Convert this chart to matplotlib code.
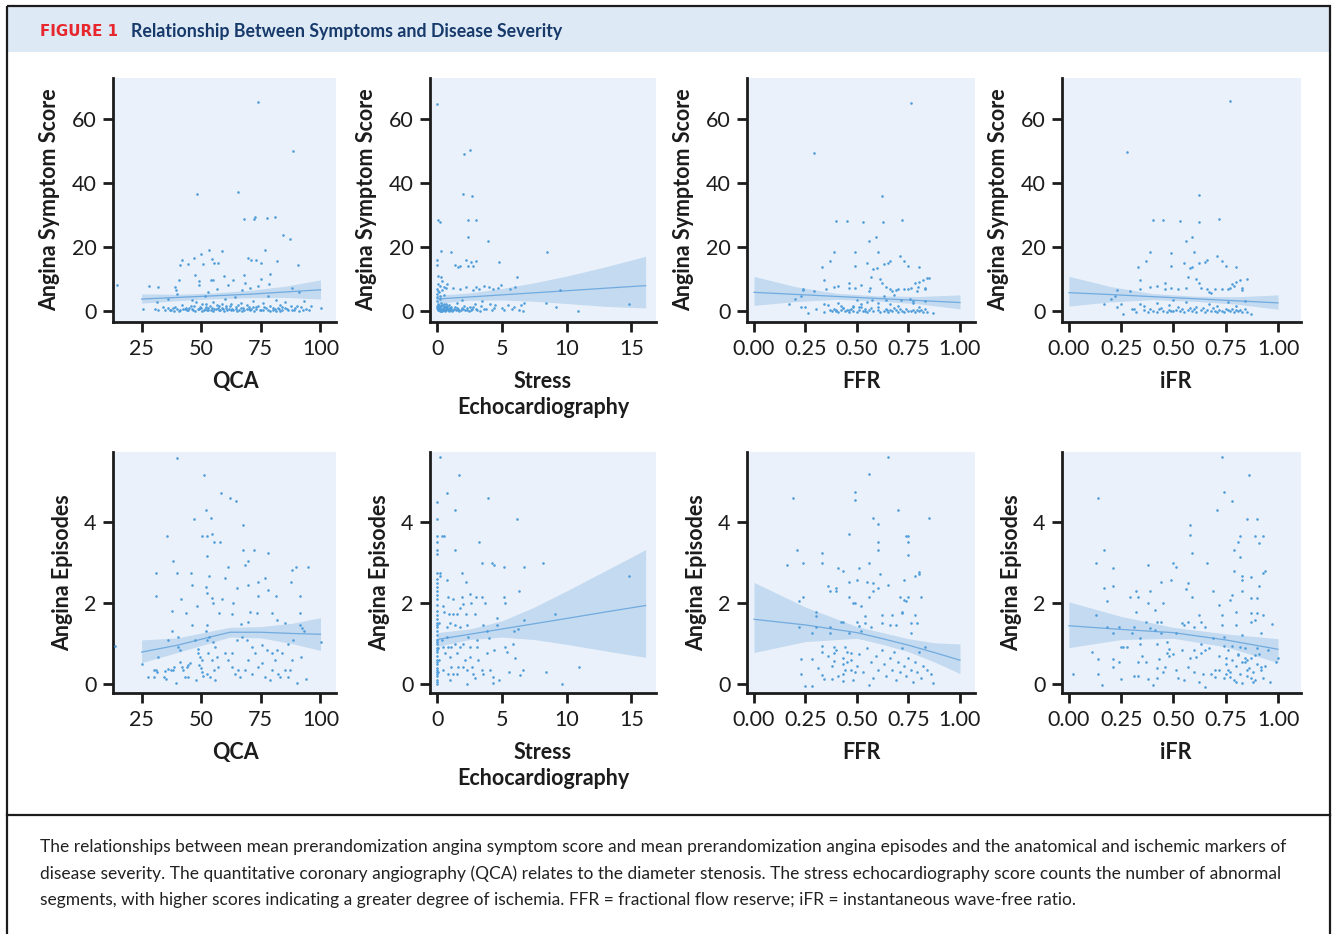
import numpy as np
import matplotlib
matplotlib.use('Agg')
import matplotlib.pyplot as plt
from matplotlib.patches import Rectangle

plt.rcParams['font.family'] = ['Lato', 'DejaVu Sans']

# ---------------- data ----------------
# top row: angina symptom score
qca_score = [
    (14.8, 8.0), (25.4, 0.6), (28, 7.7), (31.7, 7.4), (31.4, 2.7), (30.6, 0.7), (32, 0.3), (34, 1.2),
    (36.2, 3.7), (37, 0.4), (38, 0.8), (39, 7.5), (39.3, 6.5), (39.8, 5.4), (40.5, 9.8), (41, 14.5),
    (42, 16), (42, 1.8), (43, 0.5), (44.3, 14.7), (45, 0.9), (46, 3.5), (46.8, 16.6), (47.4, 11.1),
    (47, 1.4), (48.3, 36.6), (49, 9.3), (49.2, 8.2), (49.8, 17.9), (50, 0.8), (50.5, 2.2), (50.9, 14.7),
    (51.5, 4.5), (52, 1.2), (52.5, 0.3), (53, 5.8), (53.4, 19.2), (54, 9.8), (54.4, 16.4), (54.8, 9.8),
    (55, 2.8), (55.5, 15), (56, 0.6), (56.5, 6.8), (57, 15), (57.5, 1.5), (58, 0.2), (58.7, 18.9),
    (59.5, 10.8), (60, 3.8), (60.5, 0.9), (61.4, 8.2), (62, 1.6), (62.5, 0.4), (63.5, 9.8), (64, 4.2),
    (64.5, 1.1), (65.6, 37.2), (66, 0.3), (66.5, 2.5), (67, 6.5), (68, 28.8), (68, 11.1), (68.5, 8.7),
    (69, 1.9), (69.5, 16.6), (70, 0.5), (70.5, 7.2), (71, 15.8), (71.5, 3.1), (72.1, 28.8), (72.4, 29.3),
    (72.8, 15.8), (73, 1.2), (73.6, 7.7), (74, 65.4), (74.5, 0.2), (75, 10.1), (75.2, 15), (75.8, 2.4),
    (76.7, 19), (77, 0.8), (77.7, 29), (78, 4.8), (78.5, 8.5), (78.8, 11.4), (79, 1.5), (80, 0.3),
    (80.8, 29.3), (81.5, 3.3), (81.9, 15.7), (82, 0.9), (83, 1.8), (84, 0.4), (84.4, 23.8), (85, 2.7),
    (86, 0.7), (87.3, 22.6), (87.8, 1.4), (88, 7.2), (88.3, 50), (89, 0.3), (90.4, 14.3), (91, 5.8),
    (92, 1.2), (94, 0.5), (100.2, 1.0), (35, 0.2), (38.5, 0.1), (40, 0.6), (41, 0.2), (43.5, 1.0),
    (44, 0.2), (46, 0.6), (47.5, 0.1), (48, 2.8), (49, 0.5), (51, 0.2), (52.8, 0.9), (53.5, 1.6),
    (54, 0.4), (55, 0.1), (57, 0.9), (58.5, 2.2), (59, 0.5), (61, 0.2), (63, 0.7), (65, 0.1),
    (67.5, 0.9), (68, 0.2), (70, 1.3), (71, 0.6), (72, 0.1), (74, 1.5), (76, 0.4), (79, 0.1),
    (81, 0.6), (83, 0.1), (85, 0.9), (88, 0.2), (90, 1.6), (91, 0.1), (93, 3.0), (95, 0.2), (96, 1.4),
    (36, 1.0), (37.5, 0.3), (39, 1.3), (40.5, 0.1), (42.5, 0.7), (44.5, 0.4), (45.5, 1.6), (46.5, 0.2),
    (48.5, 0.6), (49.5, 1.1), (50.5, 0.1), (51.5, 0.7), (52, 2.0), (53, 0.2), (54.5, 1.0), (55.5, 0.5),
    (56.5, 1.8), (57.5, 0.3), (58.5, 0.8), (59.5, 0.1), (60.5, 1.4), (61.5, 0.6), (62.5, 2.2),
    (63.5, 0.2), (64.5, 0.6), (65.5, 1.7), (66.5, 0.8), (67, 0.1), (69, 0.7), (70.5, 0.2), (71.5, 1.2),
    (73, 0.5), (75, 0.3), (76.5, 1.1), (78, 0.3), (80, 1.0), (81.5, 0.1), (82.5, 0.5), (84, 1.3),
    (86.5, 0.3), (89.5, 0.8), (92.5, 0.2),
]
echo_score = [
    (0, 65.0), (0.1, 28.5), (0.25, 28), (0.3, 18.7), (0, 16), (0, 14.3), (0.05, 11), (0.3, 10.5),
    (0.35, 9.5), (0.1, 8.5), (0.2, 7.8), (0, 7), (0.4, 6.5), (0.15, 6), (0, 5.3), (0.5, 5), (0, 4.2),
    (0.2, 3.6), (0, 3), (0.3, 2.5), (0.1, 2), (0, 1.5), (0.25, 1.2), (0, 0.8), (0.4, 0.5), (0.1, 0.2),
    (0.2, 0), (0.5, 1.5), (0.6, 0.3), (0.7, 2), (0.8, 0.8), (0.9, 1.8), (0.8, 8.5), (1.0, 0.2),
    (1.1, 18.3), (1.1, 1.2), (1.2, 7.2), (1.3, 0.5), (1.4, 14.5), (1.5, 2.5), (1.6, 13.8), (1.7, 0.1),
    (1.8, 7), (1.8, 14), (1.9, 0.9), (1.9, 3.5), (2.0, 36.6), (2.1, 1.6), (2.1, 49.3), (2.2, 15.8),
    (2.2, 7.5), (2.3, 0.3), (2.4, 14), (2.4, 28.6), (2.4, 23.2), (2.5, 50.5), (2.5, 1.2), (2.6, 15.3),
    (2.7, 0.5), (2.7, 36), (2.8, 14), (2.8, 6.5), (2.9, 2.2), (3.0, 7.5), (3.0, 15.5), (3.0, 28.6),
    (3.1, 0.2), (3.2, 7), (3.4, 1.5), (3.5, 3.2), (3.6, 7.7), (3.8, 0.5), (3.9, 22), (4.0, 7.5),
    (4.1, 2.3), (4.3, 7), (4.4, 0.8), (4.5, 1.8), (4.7, 7.2), (4.8, 15.3), (4.9, 8), (5.0, 1.0),
    (5.2, 0.3), (5.5, 1.7), (5.6, 7), (5.8, 0.6), (5.9, 1.1), (6.0, 7.5), (6.2, 10.5), (6.3, 0.3),
    (6.5, 1.8), (6.6, 0.1), (6.7, 2.5), (8.4, 2.5), (8.5, 18.3), (9.2, 1.2), (9.5, 6.5), (10.9, 0.1),
    (14.8, 2.3), (0.05, 0.5), (0.15, 0.9), (0.3, 0.1), (0.45, 0.7), (0.35, 1.9), (0.6, 1.2), (0.55, 0.2),
    (0.75, 0.6), (0.9, 0.1), (1.0, 1.0), (1.25, 0.2), (1.5, 0.8), (1.6, 0.2), (2.0, 0.6), (2.3, 1.0),
    (2.6, 0.3), (3.3, 0.1), (3.6, 0.6), (4.2, 0.2), (0.65, 7.2), (0.5, 7.5), (0.1, 6.3), (0.25, 4.8),
    (0.05, 1.1), (0.12, 0.4), (0.18, 1.7), (0.22, 0.7), (0.28, 0.3), (0.32, 1.4), (0.38, 0.1),
    (0.42, 1.0), (0.48, 0.4), (0.52, 2.3), (0.58, 0.6), (0.62, 0.1), (0.68, 1.1), (0.72, 0.3),
    (0.78, 1.5), (0.85, 0.4), (0.95, 0.9), (1.05, 0.5), (1.15, 0.1), (1.35, 1.1), (1.45, 0.3),
    (1.65, 0.7), (1.85, 0.2), (2.15, 0.4), (2.45, 0.1), (2.75, 1.3), (3.0, 0.5),
]
ffr_score = [
    (0.17, 2.2), (0.2, 3.75), (0.23, 4.6), (0.24, 6.7), (0.24, 6.5), (0.25, 1.25), (0.23, 1.2),
    (0.26, -0.8), (0.29, 6.25), (0.29, 49.6), (0.3, 0.7), (0.33, 13.6), (0.34, 9.6), (0.35, 6.7),
    (0.34, 2.2), (0.34, -0.4), (0.37, 15.7), (0.39, 18.3), (0.39, 7.5), (0.4, 28.3), (0.41, 7.7),
    (0.4, 0.4), (0.42, 1.5), (0.43, 0.9), (0.45, 28.3), (0.46, 8.75), (0.46, 7.2), (0.44, -0.1),
    (0.46, 0.2), (0.48, 1.2), (0.49, 18.3), (0.49, 14.2), (0.49, 7.2), (0.5, 3.5), (0.51, 1.25),
    (0.52, 2.0), (0.52, 8.2), (0.53, 28), (0.54, 0.0), (0.55, 15), (0.56, 21.8), (0.56, 6.1),
    (0.565, 7.2), (0.57, 10.6), (0.575, 3.5), (0.58, 13.2), (0.59, 23.1), (0.595, 13.4), (0.6, 18.3),
    (0.6, 2.5), (0.61, 10), (0.62, 8.75), (0.62, 36), (0.625, 27.7), (0.63, 14.7), (0.63, 4.6),
    (0.64, 7.5), (0.64, 3.5), (0.645, 0.4), (0.65, 15), (0.66, 15.7), (0.66, 6.7), (0.67, 6.1),
    (0.68, 5.1), (0.69, 6.5), (0.7, 6.7), (0.71, 17.3), (0.715, 3.3), (0.72, 28.5), (0.73, 15.5),
    (0.73, 6.7), (0.75, 14), (0.75, 6.7), (0.755, 3.8), (0.76, 65.3), (0.76, 7.2), (0.77, 3.0),
    (0.78, 8.75), (0.79, 6.1), (0.8, 13.75), (0.795, 7.5), (0.8, 8.9), (0.82, 9.8), (0.83, 6.7),
    (0.84, 10.3), (0.83, 7.2), (0.85, 10.3), (0.87, -0.8), (0.37, 0.3), (0.38, -0.2), (0.39, 0.6),
    (0.40, 0.1), (0.41, -0.4), (0.42, 0.4), (0.43, 0.9), (0.45, 0.2), (0.46, -0.5), (0.47, 0.5),
    (0.48, 0.0), (0.5, -0.3), (0.51, 0.3), (0.52, 1.1), (0.53, -0.1), (0.54, 0.5), (0.55, -0.4),
    (0.56, 0.2), (0.57, 0.8), (0.58, -0.2), (0.6, 0.4), (0.61, -0.5), (0.63, 0.1), (0.64, 0.7),
    (0.65, -0.3), (0.66, 0.3), (0.67, -0.1), (0.68, 0.9), (0.69, 0.2), (0.7, -0.4), (0.71, 0.5),
    (0.72, 0.0), (0.73, -0.3), (0.74, 0.6), (0.75, 0.1), (0.76, -0.2), (0.77, 0.4), (0.78, -0.4),
    (0.79, 0.2), (0.8, -0.1), (0.81, 0.3), (0.82, -0.3), (0.83, 0.5), (0.84, -0.5), (0.36, 1.8),
    (0.41, 2.4), (0.48, 1.5), (0.55, 2.7), (0.6, 1.2), (0.66, 2.0), (0.7, 1.6), (0.77, 2.5),
    (0.8, 1.3), (0.83, 3.0),
]
ifr_score = [
    (0.17, 2.0), (0.2, 3.75), (0.22, 4.6), (0.23, 6.5), (0.23, 1.2), (0.25, 2.0), (0.26, -0.9),
    (0.28, 49.9), (0.29, 6.1), (0.30, 0.6), (0.31, 0.7), (0.33, 13.6), (0.34, 9.6), (0.34, 6.7),
    (0.34, 2.0), (0.32, -0.4), (0.37, 15.7), (0.39, 18.3), (0.39, 7.5), (0.4, 28.5), (0.42, 7.7),
    (0.45, 28.5), (0.46, 8.75), (0.46, 6.9), (0.49, 18.1), (0.49, 14.2), (0.49, 7.2), (0.5, 3.5),
    (0.52, 6.7), (0.53, 28.3), (0.55, 15), (0.56, 22), (0.56, 7.2), (0.57, 10.6), (0.58, 13.4),
    (0.59, 23.1), (0.59, 13.6), (0.6, 18.3), (0.61, 10), (0.62, 8.75), (0.62, 36.2), (0.62, 27.9),
    (0.62, 15), (0.63, 7.2), (0.65, 15.2), (0.66, 15.8), (0.66, 6.7), (0.67, 5.9), (0.68, 5.5),
    (0.7, 6.7), (0.71, 17.3), (0.72, 28.75), (0.73, 15.5), (0.73, 6.7), (0.75, 14), (0.76, 6.7),
    (0.77, 65.7), (0.77, 7.2), (0.78, 8.5), (0.8, 13.75), (0.79, 7.7), (0.8, 9.0), (0.82, 9.8),
    (0.83, 7.2), (0.85, 10), (0.83, 6.5), (0.87, -0.9), (0.36, 0.2), (0.38, -0.3), (0.39, 0.7),
    (0.40, 0.0), (0.42, -0.4), (0.43, 0.5), (0.44, 1.0), (0.45, 0.1), (0.47, -0.5), (0.48, 0.4),
    (0.49, 0.0), (0.5, -0.2), (0.51, 0.4), (0.52, 1.2), (0.53, -0.2), (0.54, 0.6), (0.55, -0.3),
    (0.57, 0.3), (0.58, 0.9), (0.59, -0.1), (0.6, 0.5), (0.61, -0.4), (0.63, 0.2), (0.64, 0.8),
    (0.65, -0.4), (0.66, 0.2), (0.68, -0.1), (0.69, 0.8), (0.7, 0.1), (0.71, -0.5), (0.72, 0.4),
    (0.73, -0.1), (0.74, -0.3), (0.75, 0.7), (0.76, 0.2), (0.77, -0.2), (0.78, 0.5), (0.79, -0.4),
    (0.8, 0.3), (0.81, -0.1), (0.82, 0.2), (0.83, -0.3), (0.84, 0.6), (0.85, -0.5), (0.36, 1.6),
    (0.42, 2.5), (0.48, 1.7), (0.56, 2.8), (0.61, 1.3), (0.67, 2.2), (0.71, 1.5), (0.76, 2.7),
    (0.8, 1.4), (0.84, 3.1),
]

# bottom row: angina episodes
qca_episodes = [
    (13.8, 0.95), (25, 0.5), (27.8, 0.18), (30, 0.36), (31, 0.35), (31.3, 0.3), (30.3, 0.17),
    (30.9, 2.74), (30.9, 2.18), (32, 0.68), (34.5, 0.17), (35.2, 0.12), (34.8, 0.32), (36.2, 0.38),
    (35.8, 3.66), (37.6, 1.8), (38.3, 3.03), (37.6, 1.31), (36.2, 1.1), (37.3, 0.36), (38.3, 0.35),
    (38.7, 0.43), (39.3, 0.03), (40, 2.74), (40.4, 1.17), (41, 0.55), (41.8, 0.43), (42.5, 0.35),
    (41.5, 2.1), (39.7, 5.59), (40.4, 0.92), (41.2, 0.84), (43.6, 1.75), (43.2, 0.18), (44.6, 0.17),
    (43.9, 0.43), (44.6, 0.47), (45.3, 0.51), (45.7, 2.74), (46.3, 2.45), (47.1, 4.08), (46, 1.46),
    (47.4, 1.1), (48.5, 0.86), (48.1, 1.94), (48.8, 0.76), (49.5, 0.68), (50.2, 0.59), (49.1, 0.47),
    (49.9, 0.39), (50.5, 0.31), (50.9, 0.2), (47.8, 0.1), (50.2, 3.66), (51.3, 5.17), (51.9, 4.3),
    (52.3, 3.66), (52.3, 3.17), (52, 2.39), (52.6, 2.26), (53.1, 2.67), (54, 4.1), (54.4, 3.7),
    (54.4, 2.13), (55.5, 3.52), (55.1, 2.01), (52.6, 1.46), (52.1, 1.3), (53.3, 1.17), (52.3, 1.09),
    (55.1, 1.05), (55.8, 0.92), (53, 0.76), (54.4, 0.59), (56.5, 0.68), (57.2, 0.43), (55.5, 0.35),
    (52.3, 0.26), (53.7, 0.18), (55.8, 0.1), (57.9, 3.52), (58.3, 4.72), (58.6, 2.1), (57.6, 1.75),
    (60, 2.62), (61.4, 2.9), (62, 4.6), (63.2, 2.01), (62.8, 1.73), (64.7, 4.51), (64.9, 2.38),
    (66.5, 1.48), (67.4, 3.94), (67.4, 3.32), (68.4, 2.95), (69.5, 3.03), (69.5, 2.45), (69.8, 1.54),
    (70.5, 1.77), (72.3, 3.32), (73.3, 1.76), (74, 2.53), (74, 2.18), (76.7, 2.62), (77.9, 3.23),
    (78.1, 2.33), (81.4, 2.18), (79.8, 1.75), (81.6, 1.58), (85.1, 1.52), (87.7, 2.53), (88.2, 2.82),
    (89.8, 2.9), (91.2, 2.18), (91.5, 1.75), (91.5, 1.46), (92.2, 1.38), (92.9, 1.32), (94.7, 2.89),
    (91.9, 0.68), (93.8, 0.12), (90, 0.03), (100.2, 1.04), (60, 0.76), (61.4, 0.59), (62.8, 0.43),
    (64.2, 0.26), (65.6, 0.35), (66.3, 0.18), (68.4, 0.35), (69.8, 0.59), (71.2, 0.26), (72.6, 0.76),
    (74, 0.43), (75.3, 0.51), (76.7, 0.18), (78.8, 0.1), (79.5, 0.35), (80.9, 0.59), (82.3, 0.26),
    (83, 0.18), (83.7, 0.76), (85.1, 0.35), (86.5, 0.18), (87.2, 0.35), (87.9, 0.59), (75.3, 0.97),
    (77.4, 0.84), (79.5, 0.76), (81.6, 0.84), (86.5, 1.0), (88.6, 1.09), (71.2, 0.92), (69.1, 1.09),
    (67, 1.17), (64.9, 1.09), (62.8, 0.76),
]
echo_episodes = [
    (0, 4.5), (0, 4.08), (0, 3.65), (0, 3.5), (0, 3.3), (0, 3.22), (0, 2.75), (0, 2.6), (0, 2.5),
    (0, 2.4), (0, 2.3), (0, 2.2), (0, 2.1), (0, 1.95), (0, 1.8), (0, 1.7), (0, 1.6), (0, 1.5),
    (0, 1.45), (0, 1.4), (0, 1.3), (0, 1.2), (0, 1.1), (0, 1.05), (0, 1.0), (0, 0.9), (0, 0.85),
    (0, 0.8), (0, 0.7), (0, 0.6), (0, 0.55), (0, 0.5), (0, 0.4), (0, 0.35), (0, 0.3), (0, 0.25),
    (0, 0.2), (0, 0.1), (0, 0.05), (0, 0.0), (0.1, 0.3), (0.1, 0.9), (0.12, 1.5), (0.15, 0.6),
    (0.2, 5.61), (0.2, 2.74), (0.26, 2.67), (0.34, 3.65), (0.54, 3.66), (0.73, 4.72), (0.73, 2.57),
    (0.47, 1.93), (0.54, 1.79), (0.85, 2.16), (0.93, 1.73), (0.98, 1.52), (1.19, 2.1), (1.24, 1.73),
    (1.37, 4.3), (1.4, 3.32), (1.4, 1.46), (1.55, 1.73), (1.71, 5.17), (1.76, 1.87), (1.76, 1.42),
    (1.89, 2.15), (1.92, 2.74), (2.02, 1.98), (2.23, 2.51), (2.23, 1.73), (2.28, 1.46), (2.41, 1.17),
    (2.54, 2.23), (2.62, 2.0), (2.93, 1.73), (2.98, 2.16), (3.24, 3.52), (3.45, 3.0), (3.45, 2.16),
    (3.58, 1.46), (3.7, 2.0), (3.83, 1.3), (3.96, 4.6), (4.04, 1.13), (4.22, 3.0), (4.4, 2.95),
    (4.61, 1.64), (4.61, 1.46), (4.4, 0.84), (4.74, 0.1), (5.13, 2.88), (5.13, 2.16), (5.26, 2.0),
    (5.26, 0.92), (5.39, 0.8), (5.52, 0.3), (5.85, 1.0), (5.9, 1.3), (6.17, 4.08), (6.24, 1.35),
    (6.35, 2.31), (6.42, 0.22), (6.6, 0.35), (6.68, 2.88), (6.68, 1.58), (5.98, 0.64), (8.19, 3.0),
    (8.42, 0.29), (9.07, 1.73), (9.61, 0.0), (10.96, 0.43), (14.84, 2.66), (0.73, 1.17), (0.85, 0.92),
    (0.98, 0.68), (1.11, 0.43), (1.24, 0.26), (0.98, 0.1), (1.5, 0.76), (1.63, 0.43), (1.76, 0.92),
    (2.02, 1.0), (2.15, 0.59), (2.28, 0.35), (2.33, 0.0), (2.54, 0.92), (2.67, 0.43), (2.8, 0.26),
    (2.93, 0.14), (3.06, 0.92), (3.19, 0.59), (3.45, 0.35), (3.58, 0.26), (3.83, 0.76), (4.09, 0.35),
    (4.3, 0.18), (4.35, 0.02), (3.06, 1.09), (0.47, 0.35), (0.6, 0.76), (0.47, 0.92), (0.34, 1.09),
    (0.73, 1.42), (0.85, 0.26), (1.11, 0.92), (1.37, 1.0), (1.5, 0.26), (2.02, 0.43), (2.54, 0.68),
]
ffr_episodes = [
    (0.16, 2.93), (0.19, 4.6), (0.21, 3.3), (0.22, 2.06), (0.24, 3.0), (0.24, 2.14), (0.22, 1.4),
    (0.23, 0.61), (0.23, 0.24), (0.25, -0.05), (0.28, -0.05), (0.28, 1.27), (0.28, 0.61), (0.3, 1.77),
    (0.3, 1.68), (0.3, 1.4), (0.31, 0.39), (0.33, 0.22), (0.33, 3.23), (0.33, 3.0), (0.33, 0.94),
    (0.33, 0.78), (0.34, 0.12), (0.36, 2.43), (0.37, 2.29), (0.38, 0.12), (0.37, 1.42), (0.37, 1.27),
    (0.39, 0.92), (0.39, 0.76), (0.39, 0.58), (0.4, 2.37), (0.4, 2.29), (0.41, 2.86), (0.42, 1.54),
    (0.43, 1.54), (0.43, 2.78), (0.43, 0.64), (0.43, 0.5), (0.43, 0.26), (0.43, 0.08), (0.44, 0.92),
    (0.45, 0.55), (0.46, 3.7), (0.46, 2.51), (0.46, 2.15), (0.46, 1.27), (0.47, 0.76), (0.47, 0.35),
    (0.48, 2.0), (0.49, 4.74), (0.49, 4.54), (0.49, 2.0), (0.49, 0.31), (0.5, 2.57), (0.5, 1.54),
    (0.51, 2.86), (0.52, 1.93), (0.51, 1.44), (0.52, 1.32), (0.54, 1.52), (0.54, 1.68), (0.55, 2.53),
    (0.56, 5.19), (0.56, 3.0), (0.56, -0.02), (0.56, 2.16), (0.57, 1.42), (0.58, 4.1), (0.58, 2.29),
    (0.58, 2.49), (0.6, 3.3), (0.6, 3.95), (0.6, 3.52), (0.6, 2.37), (0.61, 2.72), (0.62, 1.5),
    (0.62, 1.71), (0.65, 5.61), (0.65, 2.45), (0.66, 1.46), (0.67, 1.71), (0.69, 1.46), (0.7, 4.31),
    (0.71, 2.16), (0.72, 1.75), (0.72, 1.77), (0.73, 2.56), (0.73, 2.08), (0.74, 2.04), (0.74, 3.65),
    (0.75, 3.19), (0.75, 3.65), (0.75, 3.52), (0.75, 2.16), (0.76, 1.25), (0.76, 1.5), (0.78, 2.66),
    (0.78, 1.71), (0.79, 1.5), (0.8, 2.76), (0.8, 2.72), (0.81, 2.16), (0.83, 0.91), (0.85, 4.1),
    (0.86, 0.25), (0.87, 0.03), (0.36, 0.7), (0.38, 0.45), (0.4, 0.85), (0.41, 0.2), (0.44, 0.35),
    (0.45, 0.8), (0.47, 0.6), (0.48, 0.1), (0.5, 0.45), (0.51, 0.75), (0.53, 0.3), (0.55, 0.9),
    (0.57, 0.55), (0.58, 0.15), (0.59, 0.7), (0.6, 0.35), (0.62, 0.85), (0.63, 0.5), (0.64, 0.2),
    (0.66, 0.65), (0.67, 0.35), (0.68, 0.8), (0.69, 0.1), (0.7, 0.55), (0.71, 0.3), (0.72, 0.9),
    (0.73, 0.45), (0.74, 0.2), (0.75, 0.65), (0.76, 0.35), (0.77, 0.05), (0.78, 0.55), (0.79, 0.3),
    (0.8, 0.8), (0.81, 0.15), (0.82, 0.45), (0.84, 0.35),
]
ifr_episodes = [
    (0.02, 0.26), (0.11, 0.78), (0.13, 1.71), (0.13, 3.0), (0.14, 4.6), (0.14, 0.61), (0.14, 0.26),
    (0.16, -0.02), (0.17, 3.3), (0.17, 2.37), (0.18, 2.06), (0.18, 1.4), (0.21, 2.86), (0.21, 2.43),
    (0.21, 0.61), (0.21, 0.41), (0.21, 1.27), (0.24, 1.4), (0.24, 0.55), (0.25, 0.92), (0.26, 0.92),
    (0.25, 0.12), (0.28, 0.92), (0.29, 2.15), (0.3, 1.27), (0.31, 1.4), (0.31, 0.2), (0.32, 2.29),
    (0.32, 1.77), (0.33, 0.55), (0.33, 0.2), (0.33, 2.16), (0.34, 1.13), (0.34, 0.99), (0.35, 0.69),
    (0.37, 1.54), (0.37, 0.55), (0.38, 0.12), (0.38, 2.0), (0.38, 2.95), (0.39, 2.29), (0.39, 1.39),
    (0.4, -0.02), (0.41, 1.82), (0.41, 1.34), (0.42, 1.54), (0.42, 0.39), (0.42, 0.14), (0.42, 0.99),
    (0.43, 0.61), (0.44, 1.27), (0.44, 2.51), (0.44, 1.54), (0.45, 2.0), (0.45, 0.3), (0.46, 0.43),
    (0.47, 1.05), (0.47, 0.76), (0.48, 0.69), (0.48, 0.86), (0.49, 2.57), (0.5, 3.0), (0.51, 2.89),
    (0.51, 1.27), (0.51, 0.36), (0.52, 0.14), (0.54, 0.84), (0.54, 1.5), (0.55, 1.46), (0.56, 2.34),
    (0.57, 1.54), (0.57, 2.49), (0.57, 0.41), (0.58, 0.64), (0.58, 3.94), (0.58, 3.69), (0.59, 3.23),
    (0.59, 2.15), (0.6, 1.4), (0.6, 0.84), (0.61, 0.68), (0.62, 0.06), (0.62, 1.71), (0.63, 1.54),
    (0.63, 0.99), (0.63, 0.76), (0.64, 0.26), (0.65, 1.4), (0.65, -0.07), (0.66, 3.0), (0.67, 0.88),
    (0.68, 0.26), (0.69, 2.29), (0.69, 1.13), (0.7, 0.18), (0.71, 4.31), (0.72, 1.96), (0.72, 0.35),
    (0.73, 5.61), (0.73, 1.71), (0.73, 1.46), (0.74, 1.17), (0.74, 4.74), (0.74, 0.94), (0.75, 0.64),
    (0.76, 0.35), (0.77, 0.17), (0.77, 2.08), (0.78, 2.2), (0.78, 4.53), (0.79, 2.8), (0.79, 3.32),
    (0.8, 1.79), (0.8, 1.46), (0.81, 3.52), (0.81, 0.72), (0.82, 0.92), (0.82, 3.65), (0.82, 3.15),
    (0.83, 1.21), (0.83, 2.29), (0.83, 2.67), (0.83, 2.57), (0.84, 0.64), (0.84, 0.55), (0.85, 4.08),
    (0.85, 0.35), (0.86, 5.17), (0.87, 2.64), (0.87, 2.12), (0.87, 1.75), (0.87, 1.54), (0.88, 0.06),
    (0.89, 1.58), (0.89, 0.72), (0.89, 3.65), (0.9, 4.08), (0.9, 2.12), (0.9, 1.75), (0.91, 3.48),
    (0.91, 2.43), (0.92, 1.25), (0.92, 0.43), (0.93, 3.65), (0.93, 1.71), (0.93, 2.74), (0.94, 2.78),
    (0.95, 0.83), (0.96, 0.06), (0.97, 1.49), (0.99, 0.55), (1.0, 0.64), (0.7, 0.35), (0.72, 0.7),
    (0.74, 0.15), (0.75, 0.5), (0.76, 0.85), (0.77, 0.3), (0.78, 0.6), (0.79, 0.1), (0.8, 0.45),
    (0.81, 0.75), (0.82, 0.25), (0.83, 0.55), (0.84, 0.9), (0.85, 0.2), (0.86, 0.4), (0.87, 0.65),
    (0.88, 0.3), (0.89, 0.1), (0.9, 0.5), (0.91, 0.75), (0.92, 0.35), (0.93, 0.15), (0.94, 0.45),
    (0.8, 0.05), (0.85, 0.6), (0.78, 0.95), (0.9, 0.9), (0.83, 0.02), (0.87, 0.15), (0.75, 0.25),
    (0.6, 0.3), (0.65, 0.85), (0.55, 0.1), (0.5, 0.75),
]

# fitted line with confidence band: x, fit, lower, upper
qca_score_fit = ([25, 40, 55, 70, 85, 100],
                 [3.7, 4.2, 4.7, 5.2, 5.9, 6.6],
                 [2.4, 3.2, 3.8, 4.1, 4.2, 3.7],
                 [5.3, 5.2, 5.6, 6.4, 7.7, 9.7])
echo_score_fit = ([0, 2.5, 5, 7.5, 10, 13, 16.1],
                  [3.7, 4.35, 5.0, 5.65, 6.3, 7.1, 7.9],
                  [2.4, 3.3, 3.4, 3.0, 2.3, 1.4, 0.9],
                  [4.9, 5.6, 7.0, 8.8, 10.9, 13.8, 17.1])
ffr_score_fit = ([0, 0.2, 0.4, 0.6, 0.8, 1.0],
                 [5.8, 5.16, 4.52, 3.88, 3.24, 2.6],
                 [1.7, 2.9, 3.6, 3.1, 2.2, 0.6],
                 [10.8, 7.6, 5.5, 4.7, 4.5, 5.0])
ifr_score_fit = ([0, 0.2, 0.4, 0.6, 0.8, 1.0],
                 [5.7, 5.1, 4.45, 3.8, 3.15, 2.5],
                 [1.5, 2.8, 3.5, 3.0, 2.1, 0.5],
                 [10.8, 7.6, 5.4, 4.6, 4.4, 5.0])
qca_episodes_fit = ([25, 40, 55, 62, 75, 88, 100],
                    [0.79, 0.96, 1.18, 1.28, 1.28, 1.25, 1.23],
                    [0.53, 0.78, 1.04, 1.16, 1.14, 1.0, 0.83],
                    [1.09, 1.14, 1.32, 1.4, 1.42, 1.5, 1.64])
echo_episodes_fit = ([0, 2.5, 5, 7.5, 10, 13, 16.1],
                     [1.1, 1.23, 1.36, 1.49, 1.62, 1.78, 1.94],
                     [0.93, 1.1, 1.16, 1.1, 0.98, 0.82, 0.66],
                     [1.27, 1.36, 1.56, 1.9, 2.3, 2.8, 3.32])
ffr_episodes_fit = ([0, 0.25, 0.5, 0.625, 0.75, 0.875, 1.0],
                    [1.6, 1.46, 1.27, 1.12, 0.96, 0.78, 0.59],
                    [0.78, 1.05, 1.13, 0.98, 0.8, 0.55, 0.26],
                    [2.51, 1.9, 1.42, 1.27, 1.12, 1.02, 0.99])
ifr_episodes_fit = ([0, 0.25, 0.5, 0.75, 1.0],
                    [1.44, 1.35, 1.27, 1.09, 0.86],
                    [0.9, 1.1, 1.13, 0.92, 0.53],
                    [2.03, 1.67, 1.4, 1.24, 1.12])

x_labels = ['QCA', 'Stress\nEchocardiography', 'FFR', 'iFR']
y_labels = ['Angina Symptom Score', 'Angina Episodes']
x_ticks = [[25, 50, 75, 100], [0, 5, 10, 15], [0, 0.25, 0.5, 0.75, 1.0], [0, 0.25, 0.5, 0.75, 1.0]]
x_ticklabels = [['25', '50', '75', '100'], ['0', '5', '10', '15'],
                ['0.00', '0.25', '0.50', '0.75', '1.00'], ['0.00', '0.25', '0.50', '0.75', '1.00']]
x_limits = [(13, 106.5), (-0.55, 16.9), (-0.034, 1.073), (-0.033, 1.11)]
y_ticks = [[0, 20, 40, 60], [0, 2, 4]]
y_limits = [(-3.5, 73), (-0.22, 5.73)]

rows = [
    [(qca_score, qca_score_fit), (echo_score, echo_score_fit),
     (ffr_score, ffr_score_fit), (ifr_score, ifr_score_fit)],
    [(qca_episodes, qca_episodes_fit), (echo_episodes, echo_episodes_fit),
     (ffr_episodes, ffr_episodes_fit), (ifr_episodes, ifr_episodes_fit)],
]

# ---------------- styling ----------------
W, H = 1336, 934
PANEL_BG = '#eaf1fa'
POINT = '#4f9ddb'
BAND = '#c3daf0'
LINE = '#72abdf'
INK = '#1c1c1c'

col_px = [(113, 336), (430, 656), (747, 975), (1062, 1301)]
row_px = [(78, 322), (452, 693)]
xlabel_pos = [0.547, 0.5, 0.5, 0.477]   # x-label centre, axes fraction

fig = plt.figure(figsize=(W / 100, H / 100), dpi=100)

# frame, header band, caption divider
bg = fig.add_axes([0, 0, 1, 1], zorder=-5)
bg.set_xlim(0, W)
bg.set_ylim(H, 0)
bg.axis('off')
bg.add_patch(Rectangle((8, 7), 1322, 45, color='#dde9f5', lw=0))
bg.add_patch(Rectangle((7, 6), 1323, 1000, fill=False, lw=1.6, ec=INK))
bg.plot([7, 1330], [815, 815], color=INK, lw=1.6)

fig.text(40 / W, 1 - 31 / H, 'FIGURE 1', color='#e8262d', fontsize=10.8,
         fontweight='bold', family='DejaVu Sans', va='center', ha='left')
fig.text(131 / W, 1 - 31 / H, 'Relationship Between Symptoms and Disease Severity',
         color='#173a6b', fontsize=12.8, fontweight='bold', va='center', ha='left')

caption = [
    'The relationships between mean prerandomization angina symptom score and mean prerandomization '
    'angina episodes and the anatomical and ischemic markers of',
    'disease severity. The quantitative coronary angiography (QCA) relates to the diameter stenosis. '
    'The stress echocardiography score counts the number of abnormal',
    'segments, with higher scores indicating a greater degree of ischemia. '
    'FFR = fractional flow reserve; iFR = instantaneous wave-free ratio.',
]
for i, line in enumerate(caption):
    fig.text(40 / W, 1 - (847 + 26.3 * i) / H, line, color='#222222', fontsize=12.55,
             va='center', ha='left')

for r, row in enumerate(rows):
    top, bottom = row_px[r]
    for c, (pts, fit) in enumerate(row):
        left, right = col_px[c]
        ax = fig.add_axes([left / W, 1 - bottom / H, (right - left) / W, (bottom - top) / H])
        ax.set_facecolor(PANEL_BG)
        fx, fy, flo, fhi = fit
        ax.fill_between(fx, flo, fhi, color=BAND, lw=0, zorder=1)
        ax.plot(fx, fy, color=LINE, lw=0.9, zorder=2)
        xs, ys = np.array(pts).T
        ax.scatter(xs, ys, s=3.5, color=POINT, lw=0, zorder=3)

        ax.set_xlim(*x_limits[c])
        ax.set_ylim(*y_limits[r])
        ax.set_xticks(x_ticks[c])
        ax.set_xticklabels(x_ticklabels[c])
        ax.set_yticks(y_ticks[r])
        for s in ['top', 'right']:
            ax.spines[s].set_visible(False)
        for s in ['left', 'bottom']:
            ax.spines[s].set_linewidth(2)
            ax.spines[s].set_color(INK)
        ax.tick_params(length=7, width=2, color=INK, labelsize=15.5, labelcolor=INK, pad=5)
        ax.set_xlabel(x_labels[c], fontsize=15.5, fontweight='bold', color=INK,
                      labelpad=9, linespacing=1.3)
        ax.xaxis.label.set_x(xlabel_pos[c])
        ax.set_ylabel(y_labels[r], fontsize=15.5, fontweight='bold', color=INK, labelpad=8)

fig.savefig('out.png', dpi=100)
